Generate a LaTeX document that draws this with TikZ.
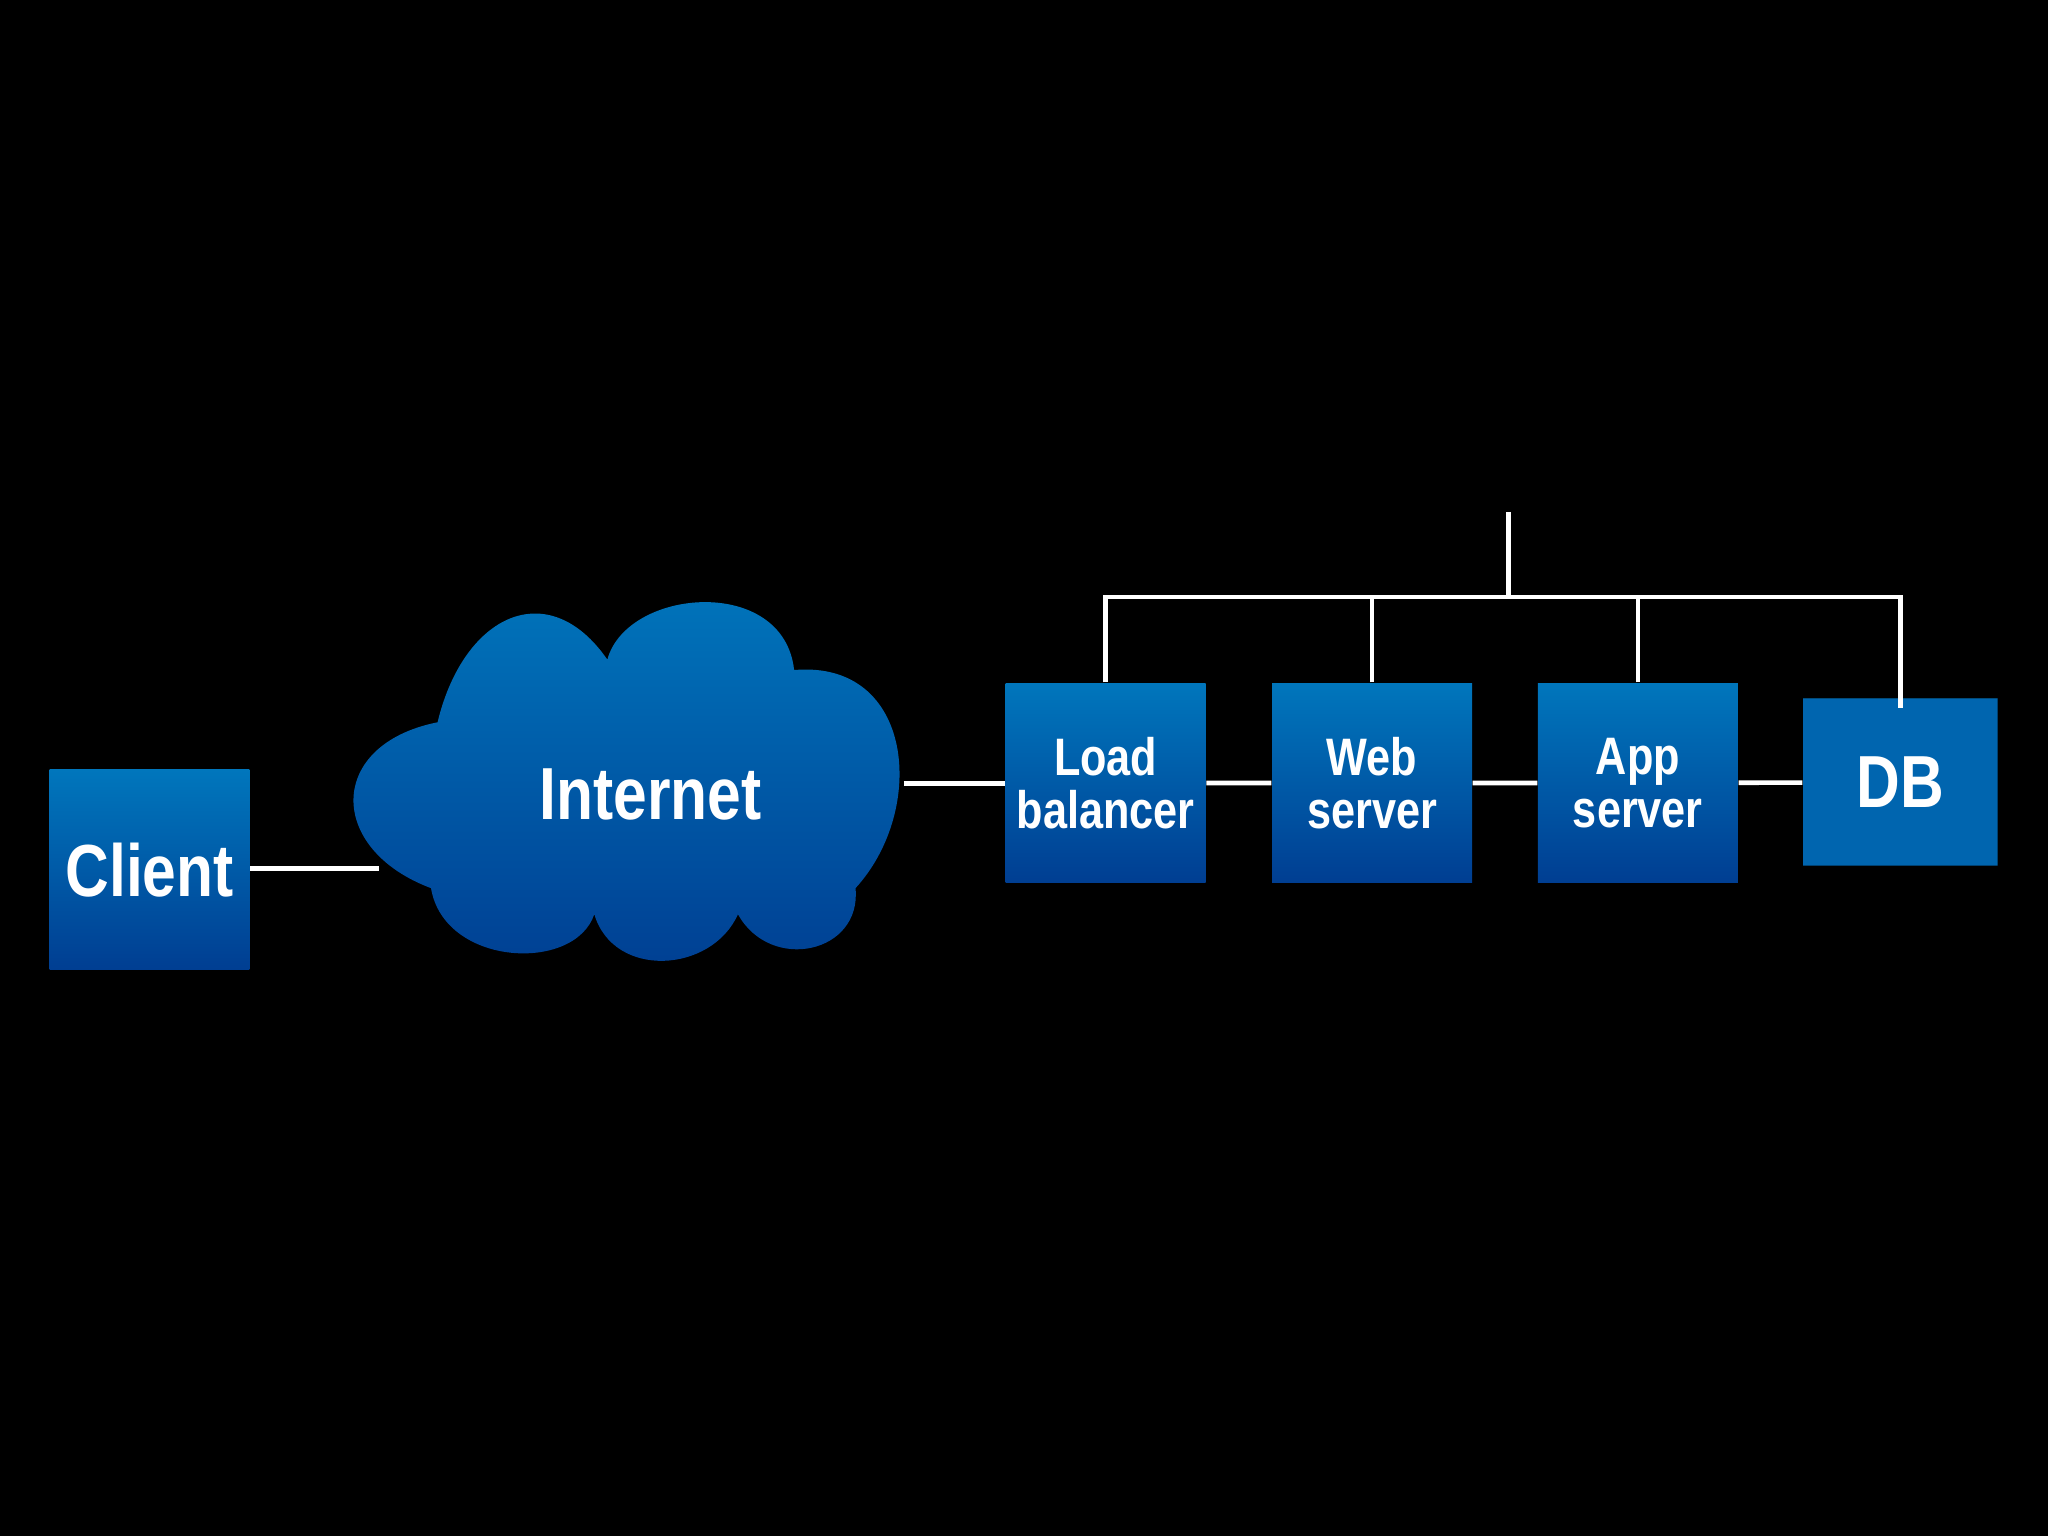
\documentclass[tikz,border=0pt]{standalone}
\usepackage{fontspec}
\setmainfont{Liberation Sans}[FakeStretch=0.82]
\usetikzlibrary{shapes.geometric,calc}
\definecolor{boxtop}{RGB}{0,118,188}
\definecolor{boxbot}{RGB}{0,62,146}
\tikzset{
  % blue tiles and white wires
  tier node/.style={rectangle,minimum size=153*0.01306cm,inner sep=0,
    top color=boxtop,bottom color=boxbot,text=white,font=\bfseries\fontsize{15}{17}\selectfont,
    align=center},
  big label/.style={text=white,font=\bfseries\fontsize{21}{24}\selectfont},
  wire/.style={draw=white,line width=1.3pt}
}
\begin{document}
\begin{tikzpicture}[x=0.01306cm,y=-0.01306cm]
  \fill[black] (0,0) rectangle (1568,1176);
  \useasboundingbox (0,0) rectangle (1568,1176);
  % The cloud
  \shade[top color=boxtop,bottom color=boxbot]
    (330,680) .. controls (250,650) and (250,570) .. (335,553)
    .. controls (355,470) and (420,440) .. (465,505)
    .. controls (480,450) and (600,440) .. (608,513)
    .. controls (700,505) and (710,620) .. (655,680)
    .. controls (660,730) and (590,745) .. (565,700)
    .. controls (545,745) and (470,750) .. (455,700)
    .. controls (440,745) and (340,740) .. (330,680) -- cycle;
  \node(net)[big label] at (498,608) {Internet};
  \coordinate (netw) at (290,665);
  \coordinate (nete) at (692,600);
  % The tiers
  \node(client)[tier node,font=\bfseries\fontsize{21}{24}\selectfont] at (114.5,666) {Client};
  \node(lb)[tier node] at (846.5,599.5) {Load\\[-2pt]balancer};
  \node(web)[tier node] at (1050.5,599.5) {Web\\[-2pt]server};
  \node(app)[tier node] at (1254,599.5) {App\\[-2pt]server};
  \node(db)[cylinder,shape border rotate=90,aspect=0.2,minimum width=149*0.01306cm,
    minimum height=128*0.01306cm,inner sep=0,
    cylinder uses custom fill,cylinder end fill=boxtop!80!cyan,
    cylinder body fill=boxtop!70!boxbot] at (1455,599) {};
  \node[big label] at (db) {DB};
  % wires
  \draw[wire] (client.east |- netw) -- (netw);
  \draw[wire] (nete) -- (lb.west |- nete);
  \draw[wire] (lb) -- (web) (web) -- (app) (app) -- (db);
  % the shared bus
  \coordinate (bus) at (1155,457);
  \coordinate (top) at (1155,392);
  \draw[wire] (top) -- (bus);
  \draw[wire] (lb.north) -- (lb.north |- bus) -- (bus -| db.center) -- ($(db.center)+(0,-57)$);
  \draw[wire] (web.north) -- (web.north |- bus) (app.north) -- (app.north |- bus);
\end{tikzpicture}
\end{document}
